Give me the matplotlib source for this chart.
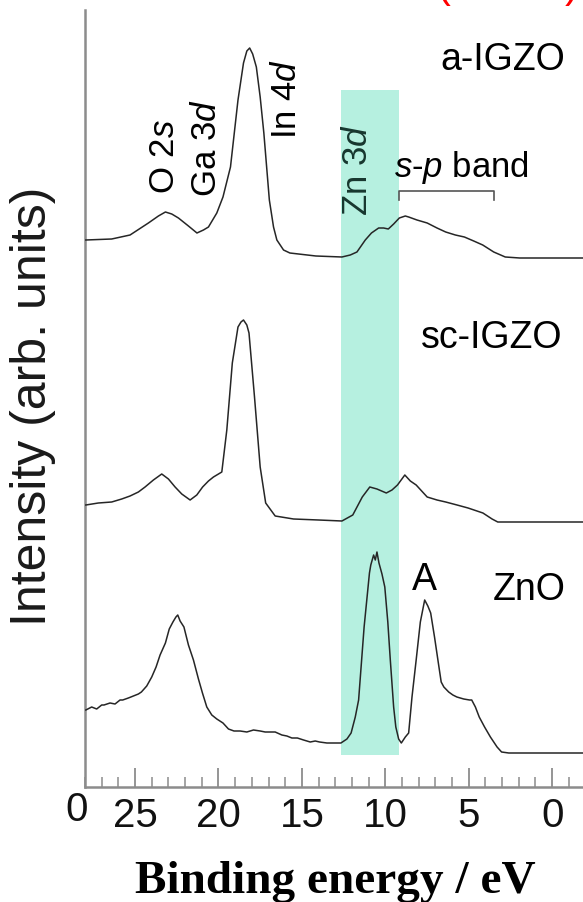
# Valence band XPS spectra: a-IGZO, sc-IGZO and ZnO
import matplotlib
matplotlib.use("Agg")
import matplotlib.pyplot as plt
from matplotlib.ticker import MultipleLocator

plt.rcParams['font.family'] = ['Liberation Sans', 'DejaVu Sans']
plt.rcParams['mathtext.fontset'] = 'custom'
plt.rcParams['mathtext.rm'] = 'Liberation Sans'
plt.rcParams['mathtext.it'] = 'Liberation Sans:italic'

# binding energy (eV) and stacked intensity (arb. units)
a_igzo_e = [27.95, 26.4, 25.3, 24.2, 23.6, 23.18, 22.8, 22.4, 21.8, 21.29, 20.9, 20.6,
            20.1, 19.73, 19.28, 18.83, 18.5, 18.3, 18.13, 17.95, 17.73, 17.5, 17.28,
            16.95, 16.7, 16.5, 16.1, 15.72, 14.16, 12.6, 12.1, 11.7, 11.2, 10.83, 10.4,
            10.1, 9.82, 9.5, 9.16, 8.8, 8.6, 8.1, 7.49, 6.9, 6.38, 5.8, 5.26, 4.7, 4.16,
            3.5, 2.81, 1.94, -1.85]
a_igzo_i = [547, 548, 552, 564, 571, 575, 573, 569, 561, 554, 557, 560,
            574, 590, 620, 687, 724, 736, 739, 733, 720, 690, 654,
            587, 560, 547, 537, 534, 531, 530, 532, 535, 547, 554, 559,
            559, 558, 563, 569, 571, 570, 567, 564, 559, 555, 552, 550, 546, 542,
            535, 530, 529, 529]

sc_igzo_e = [27.95, 27.2, 26.4, 25.8, 25.3, 24.8, 24.4, 23.9, 23.4, 23.0, 22.6, 22.2,
             21.7, 21.3, 20.95, 20.6, 20.3, 19.8, 19.5, 19.17, 18.83, 18.65, 18.5, 18.3,
             18.17, 17.84, 17.5, 17.17, 16.6, 15.5, 14.0, 12.6, 11.95, 11.38, 10.93,
             10.5, 9.94, 9.6, 9.27, 8.83, 8.5, 8.15, 7.49, 6.9, 6.38, 5.7, 5.04, 4.15,
             3.6, 3.26, -1.85]
sc_igzo_i = [282, 284, 285, 288, 291, 295, 300, 307, 313, 308, 300, 293,
             287, 292, 300, 306, 310, 315, 357, 424, 460, 465, 467, 462,
             454, 390, 320, 284, 271, 268, 267, 266, 272, 290, 300,
             298, 294, 297, 302, 312, 306, 302, 290, 287, 285, 282, 279, 274,
             268, 265, 265]

zno_e = [27.95, 27.6, 27.3, 27.0, 26.86, 26.5, 26.2, 25.9, 25.74, 25.4, 25.1, 24.8,
         24.62, 24.3, 24.0, 23.74, 23.5, 23.18, 22.95, 22.73, 22.55, 22.44, 22.3, 22.07,
         21.8, 21.5, 21.2, 20.96, 20.7, 20.4, 20.1, 19.73, 19.4, 19.07, 18.7, 18.3, 17.9,
         17.5, 17.2, 16.9, 16.6, 16.2, 15.9, 15.6, 15.27, 14.9, 14.5, 14.2, 13.94, 13.5,
         13.1, 12.66, 12.3, 12.05, 11.8, 11.6, 11.27, 10.95, 10.87, 10.7, 10.6, 10.5,
         10.38, 10.2, 10.03, 9.85, 9.7, 9.5, 9.37, 9.2, 9.04, 8.8, 8.6, 8.4, 8.15, 7.9,
         7.64, 7.45, 7.28, 7.05, 6.82, 6.65, 6.49, 6.2, 5.95, 5.71, 5.3, 4.95, 4.82, 4.6,
         4.37, 4.05, 3.7, 3.3, 3.03, 2.6, -1.85]
zno_i = [77, 80, 78, 82, 82, 84, 83, 87, 87, 89, 91, 93,
         95, 101, 110, 120, 132, 144, 158, 165, 170, 172, 166, 160,
         142, 127, 108, 94, 80, 72, 68, 64, 58, 56, 56, 55, 57,
         56, 55, 55, 55, 52, 51, 49, 49, 47, 45, 46, 45, 44,
         44, 44, 48, 54, 70, 87, 160, 214, 222, 232, 227, 235,
         224, 213, 200, 165, 127, 80, 60, 48, 44, 50, 54, 90, 127, 165,
         187, 181, 174, 150, 124, 105, 100, 95, 92, 90, 88, 87, 87, 80,
         70, 60, 50, 40, 35, 34, 34]

zn3d_band = (12.66, 9.19)
sp_band = (9.19, 3.5)

fig = plt.figure(figsize=(5.83, 9.02), dpi=100)
ax = fig.add_axes([85 / 583, 115 / 902, 1 - 85 / 583, 777 / 902])

ax.fill_between(zn3d_band, 32, 697, color='#b6f0e0', lw=0, zorder=1)

for e, i in [(a_igzo_e, a_igzo_i), (sc_igzo_e, sc_igzo_i), (zno_e, zno_i)]:
    ax.plot(e, i, color='#262626', lw=1.1, zorder=3)

ax.set_xlim(28, -1.85)
ax.set_ylim(0, 777)

for s in ['top', 'right']:
    ax.spines[s].set_visible(False)
for s in ['left', 'bottom']:
    ax.spines[s].set_color('#8c8c8c')
    ax.spines[s].set_linewidth(1.8)

ax.set_yticks([])
ax.xaxis.set_major_locator(MultipleLocator(5))
ax.xaxis.set_minor_locator(MultipleLocator(1))
ax.tick_params(axis='x', which='major', direction='in', length=14, width=1.3,
               color='#8c8c8c', labelsize=29, pad=7, labelcolor='#111111')
ax.tick_params(axis='x', which='minor', direction='in', length=7, width=1.1,
               color='#8c8c8c')

# labels
fig.text(77 / 583, 1 - 810 / 902, '0', fontsize=29, ha='center', va='center',
         color='#111111')
fig.text(335 / 583, 1 - 893 / 902, 'Binding energy / eV', family='Liberation Serif',
         weight='bold', fontsize=34, ha='center', va='baseline')
fig.text(33 / 583, 1 - 406 / 902, 'Intensity (arb. units)', rotation=90,
         fontsize=36, ha='center', va='center', color='#1a1a1a')

# red bracket cut off at the top edge
fig.text(443 / 583, 1 - 6 / 902, '(', color='red', fontsize=30, ha='center', va='bottom')
fig.text(572 / 583, 1 - 6 / 902, ')', color='red', fontsize=30, ha='center', va='bottom')

fs = 25
ax.text(23.23, 630, r'O 2$\mathit{s}$', rotation=90, fontsize=fs, ha='center', va='center')
ax.text(20.69, 639, r'Ga 3$\mathit{d}$', rotation=90, fontsize=fs, ha='center', va='center')
ax.text(15.9, 688, r'In 4$\mathit{d}$', rotation=90, fontsize=fs, ha='center', va='center')
ax.text(11.65, 617, r'Zn 3$\mathit{d}$', rotation=90, fontsize=fs, ha='center',
        va='center', color='#17362e', zorder=4)
ax.text(9.49, 610, r'$\mathit{s}$-$\mathit{p}$ band', fontsize=fs, ha='left', va='baseline')
ax.plot([sp_band[0], sp_band[0], sp_band[1], sp_band[1]], [587, 596, 596, 587],
        color='#555555', lw=1.2)

ax.text(2.96, 727, 'a-IGZO', fontsize=27, ha='center', va='center')
ax.text(3.62, 449, 'sc-IGZO', fontsize=27, ha='center', va='center')
ax.text(1.35, 197, 'ZnO', fontsize=27, ha='center', va='center')
ax.text(7.63, 207, 'A', fontsize=27, ha='center', va='center')

fig.savefig('out.png', dpi=100)
